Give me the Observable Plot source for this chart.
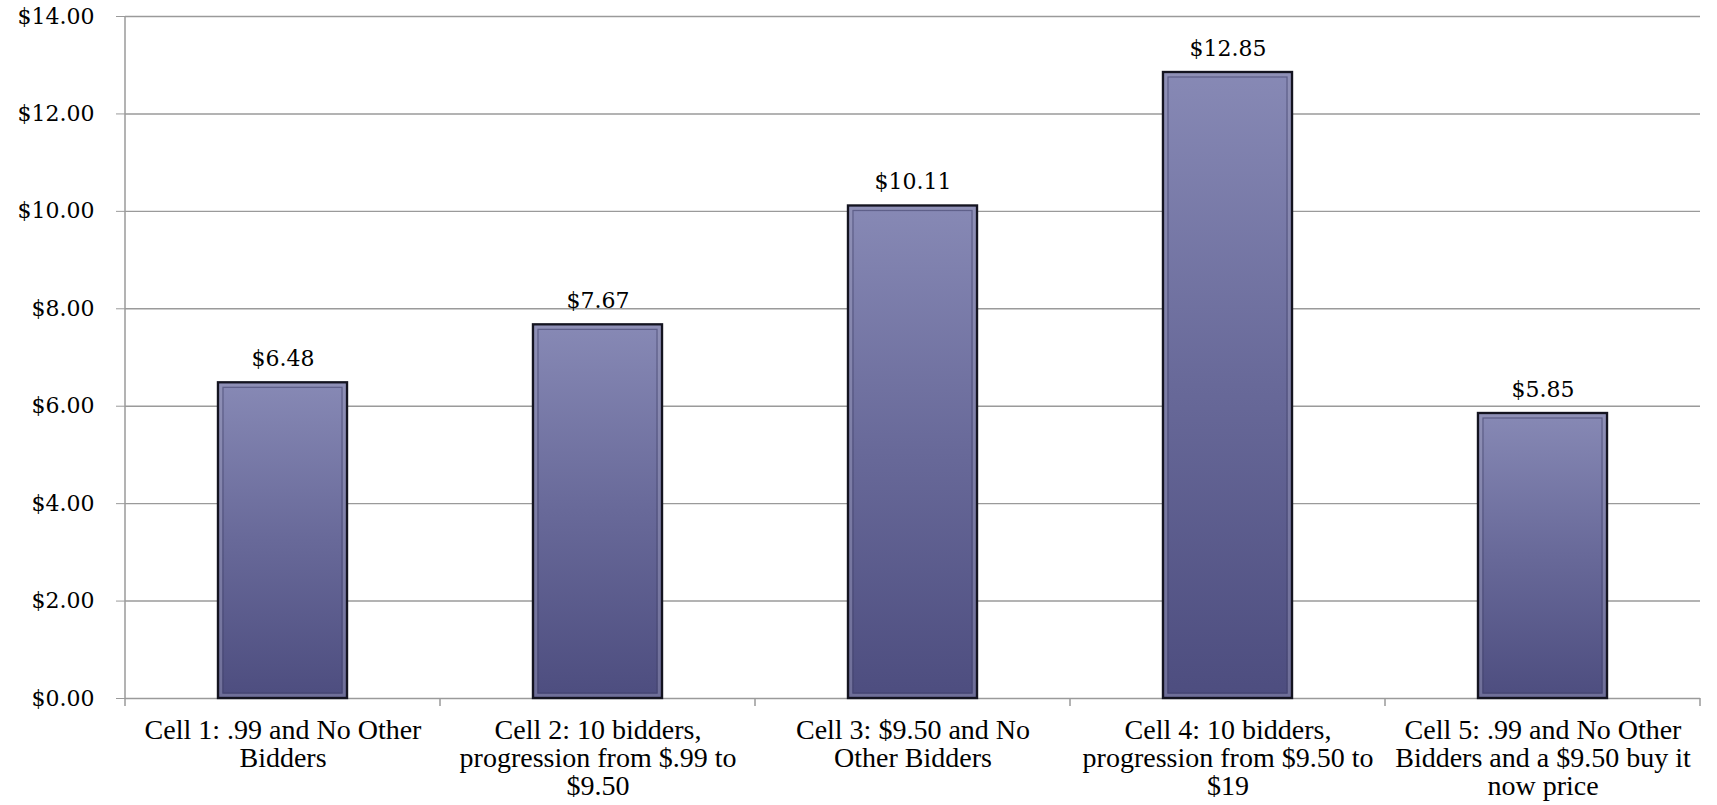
<!DOCTYPE html>
<html>
<head>
<meta charset="utf-8">
<script src="https://cdn.jsdelivr.net/npm/d3@7"></script>
<script src="https://cdn.jsdelivr.net/npm/@observablehq/plot@0.6"></script>
<style>
  html, body { margin: 0; padding: 0; background: #ffffff; }
  #chart { width: 1717px; height: 805px; }
</style>
</head>
<body>
<div id="chart"></div>
<script>
const categories = ["Cell 1", "Cell 2", "Cell 3", "Cell 4", "Cell 5"];
const labels = [
  "Cell 1: .99 and No Other\nBidders",
  "Cell 2: 10 bidders,\nprogression from $.99 to\n$9.50",
  "Cell 3: $9.50 and No\nOther Bidders",
  "Cell 4: 10 bidders,\nprogression from $9.50 to\n$19",
  "Cell 5: .99 and No Other\nBidders and a $9.50 buy it\nnow price"
];
const values = [6.48, 7.67, 10.11, 12.85, 5.85];
const yTicks = [0, 2, 4, 6, 8, 10, 12, 14];

const data = categories.map((c, i) => ({cat: c, label: labels[i], value: values[i]}));
const fmt = d => "$" + d.toFixed(2);
const FONT = "'Liberation Serif', 'DejaVu Serif', serif";
const NUMFONT = "'DejaVu Serif', 'Liberation Serif', serif";

function defsMark() {
  const svgNS = "http://www.w3.org/2000/svg";
  const defs = document.createElementNS(svgNS, "defs");
  defs.innerHTML = `
    <linearGradient id="barGrad" x1="0" y1="0" x2="0" y2="1">
      <stop offset="0%" stop-color="#8789b5"/>
      <stop offset="50%" stop-color="#686999"/>
      <stop offset="100%" stop-color="#4d4d7f"/>
    </linearGradient>`;
  return defs;
}

function frameMark(index, scales, values, dims) {
  const g = d3.create("svg:g");
  const left = dims.marginLeft, right = dims.width - dims.marginRight;
  const top = dims.marginTop, bottom = dims.height - dims.marginBottom;
  g.append("line").attr("x1", left).attr("x2", left).attr("y1", top).attr("y2", bottom + 8)
    .attr("stroke", "#9a9a9a").attr("stroke-width", 1.5);
  const n = categories.length;
  for (let i = 1; i <= n; i++) {
    const x = left + (right - left) * i / n;
    g.append("line").attr("x1", x).attr("x2", x).attr("y1", bottom).attr("y2", bottom + 8)
      .attr("stroke", "#9a9a9a").attr("stroke-width", 1.5);
  }
  return g.node();
}

const chart = Plot.plot({
  width: 1717,
  height: 805,
  marginLeft: 125,
  marginRight: 17,
  marginTop: 16,
  marginBottom: 107,
  style: {fontFamily: FONT, background: "#ffffff", color: "#000"},
  x: {domain: categories, paddingInner: 0.59, paddingOuter: 0.295, axis: null},
  y: {domain: [0, 14], axis: null},
  marks: [
    defsMark,
    Plot.gridY(yTicks, {stroke: "#9a9a9a", strokeOpacity: 1, strokeWidth: 1.4}),
    Plot.axisY(yTicks, {tickSize: 9, tickPadding: 22, tickFormat: fmt, label: null, fontSize: 22, fontFamily: NUMFONT, stroke: "#9a9a9a", fill: "#000"}),
    frameMark,
    Plot.barY(data, {x: "cat", y: "value", fill: "url(#barGrad)", stroke: "#141420", strokeWidth: 2.4}),
    Plot.barY(data, {x: "cat", y: "value", fill: "none", stroke: "#9a9ab8", strokeOpacity: 0.45, strokeWidth: 3, inset: 2.8}),
    Plot.barY(data, {x: "cat", y: "value", fill: "none", stroke: "#3e3e66", strokeOpacity: 0.55, strokeWidth: 1.2, inset: 5}),
    Plot.text(data, {x: "cat", y: "value", text: d => fmt(d.value), lineAnchor: "bottom", dy: -17, fontSize: 22, fontFamily: NUMFONT, fill: "#000"}),
    Plot.text(data, {x: "cat", text: "label", frameAnchor: "bottom", lineAnchor: "top", dy: 21, fontSize: 28, lineHeight: 1.0, fill: "#000"})
  ]
});
document.getElementById("chart").appendChild(chart);
</script>
</body>
</html>
